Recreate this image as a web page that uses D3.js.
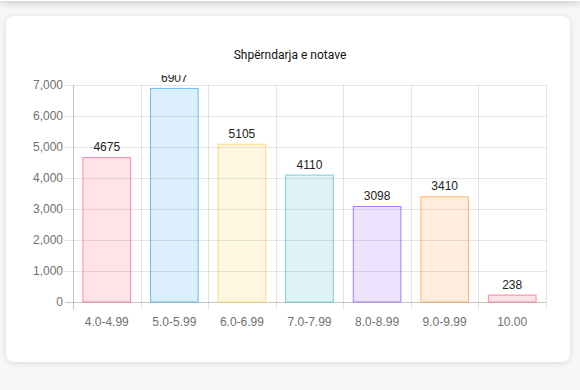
<!DOCTYPE html>
<html><head><meta charset="utf-8">
<script src="https://cdn.jsdelivr.net/npm/d3@7"></script>
<style>
html,body{margin:0;padding:0;width:580px;height:390px;overflow:hidden;background:#f7f7f7;}
#hdr{position:absolute;left:0;top:-40px;width:580px;height:41px;background:#fff;box-shadow:0 2px 8px rgba(0,0,0,0.18);}
#card{position:absolute;left:6px;top:16px;width:564px;height:346px;background:#fff;border-radius:8px;box-shadow:0 1px 6px rgba(0,0,0,0.12);}
svg{position:absolute;left:0;top:0;}
</style></head><body>
<div id="hdr"></div><div id="card"></div>
<svg id="chart" width="580" height="390"></svg>
<script>
const categories = ["4.0-4.99","5.0-5.99","6.0-6.99","7.0-7.99","8.0-8.99","9.0-9.99","10.00"];
const values = [4675, 6907, 5105, 4110, 3098, 3410, 238];
const yTicks = [0,1000,2000,3000,4000,5000,6000,7000];
const borderColors = ["rgba(255,99,132,0.75)","rgba(54,162,235,0.7)","rgba(255,205,86,0.75)","rgba(75,192,192,0.7)","rgba(153,102,255,0.85)","rgba(255,159,64,0.75)","rgba(255,99,132,0.75)"];
const fillColors = ["rgba(255,99,132,0.18)","rgba(54,162,235,0.18)","rgba(255,205,86,0.18)","rgba(75,192,192,0.18)","rgba(153,102,255,0.18)","rgba(255,159,64,0.18)","rgba(255,99,132,0.18)"];
const title = "Shpërndarja e notave";

(function(){
const svg = d3.select("#chart");
const pL = 73, pR = 546, pT = 85, pB = 302;
const x = d3.scaleBand().domain(categories).range([pL, pR]).padding(0);
const y = d3.scaleLinear().domain([0, 7000]).range([pB, pT]);
const font = "'Liberation Sans', Arial, sans-serif";

svg.append("text").attr("x", 290).attr("y", 59).attr("text-anchor","middle")
  .attr("font-family","Roboto, sans-serif").attr("font-weight",400).attr("font-size",12).attr("fill","#111").text(title);

const g = svg.append("g");
g.selectAll("line.h").data(yTicks).enter().append("line")
  .attr("x1", pL-8).attr("x2", pR).attr("y1", d=>Math.round(y(d))+0.5).attr("y2", d=>Math.round(y(d))+0.5)
  .attr("stroke", d=> d===0 ? "rgba(0,0,0,0.22)" : "rgba(0,0,0,0.1)");
const vx = categories.map(c=>x(c)).concat([pR]);
g.selectAll("line.v").data(vx).enter().append("line")
  .attr("x1", d=>Math.round(d)+0.5).attr("x2", d=>Math.round(d)+0.5).attr("y1", pT).attr("y2", pB+8)
  .attr("stroke", (d,i)=> i===0 ? "rgba(0,0,0,0.22)" : "rgba(0,0,0,0.1)");

svg.append("g").selectAll("text").data(yTicks).enter().append("text")
  .attr("x", 63).attr("y", d=>y(d)+4).attr("text-anchor","end")
  .attr("font-family",font).attr("font-size",12).attr("fill","#707070").text(d=>d3.format(",")(d));
svg.append("g").selectAll("text").data(categories).enter().append("text")
  .attr("x", d=>x(d)+x.bandwidth()/2).attr("y", 326).attr("text-anchor","middle")
  .attr("font-family",font).attr("font-size",12).attr("fill","#707070").text(d=>d);

const bw = x.bandwidth()*0.72;
svg.append("g").selectAll("rect").data(values).enter().append("rect")
  .attr("x", (d,i)=>x(categories[i]) + (x.bandwidth()-bw)/2 + 0.5)
  .attr("y", d=>y(d)+0.5).attr("width", bw-1).attr("height", d=>pB - y(d) - 0.5)
  .attr("fill", (d,i)=>fillColors[i]).attr("stroke", (d,i)=>borderColors[i]).attr("stroke-width",1);

svg.append("clipPath").attr("id","clp").append("rect").attr("x",0).attr("y",75).attr("width",580).attr("height",300);
svg.append("g").attr("clip-path","url(#clp)").selectAll("text").data(values).enter().append("text")
  .attr("x", (d,i)=>x(categories[i])+x.bandwidth()/2).attr("y", d=>y(d)-6).attr("text-anchor","middle")
  .attr("font-family",font).attr("font-size",12).attr("fill","#222").text(d=>d);
})();
</script></body></html>
